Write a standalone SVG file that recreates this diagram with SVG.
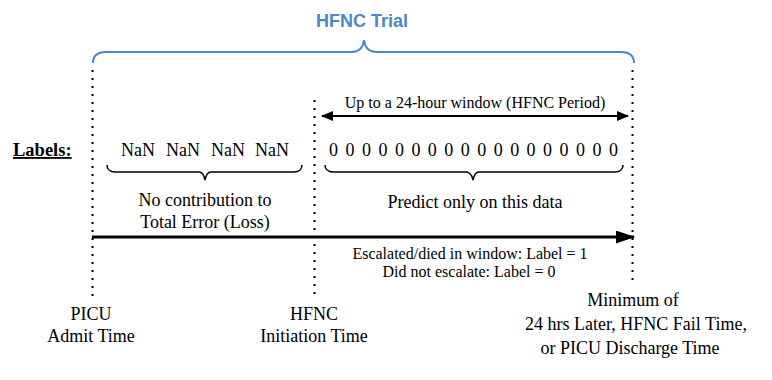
<svg xmlns="http://www.w3.org/2000/svg" width="772" height="380" viewBox="0 0 772 380">
<defs>
<style>
.t{font-family:"Liberation Serif","Times New Roman",serif;fill:#000}
.s18{font-size:18px}
.s16{font-size:16px}
.c{text-anchor:middle}
.dot{stroke:#000;stroke-width:2;stroke-dasharray:2 6;fill:none}
.brace{fill:none;stroke:#000;stroke-width:1.6}
.bbrace{fill:none;stroke:#4a88c9;stroke-width:2}
</style>
<marker id="ah" viewBox="0 0 12 10" refX="11" refY="5" markerWidth="12" markerHeight="10" markerUnits="userSpaceOnUse" orient="auto-start-reverse">
<path d="M0,0 L12,5 L0,10 Z" fill="#000"/>
</marker>
<marker id="ahb" viewBox="0 0 19 13" refX="18" refY="6.5" markerWidth="19" markerHeight="13" markerUnits="userSpaceOnUse" orient="auto">
<path d="M0,0 L19,6.5 L0,13 Z" fill="#000"/>
</marker>
</defs>
<rect width="772" height="380" fill="#fff"/>

<g id="trial">
<text x="362" y="27" style="font-family:'Liberation Sans',Arial,sans-serif;font-weight:bold;font-size:18px;fill:#4a88c9" text-anchor="middle">HFNC Trial</text>
<path class="bbrace" d="M93,63 C93,56 97,52 106,52 L352,52 C359,52 363,48 364,40 C365,48 369,52 376,52 L621,52 C630,52 634,56 634,63"/>
</g>

<g id="timelines">
<line class="dot" x1="92.5" y1="70" x2="92.5" y2="297"/>
<line class="dot" x1="314.5" y1="100" x2="314.5" y2="297"/>
<line class="dot" x1="632.5" y1="70" x2="632.5" y2="282"/>
</g>

<g id="connectors">
<line x1="322" y1="116" x2="628" y2="116" stroke="#000" stroke-width="2" marker-start="url(#ah)" marker-end="url(#ah)"/>
<line x1="92" y1="237" x2="634" y2="237" stroke="#000" stroke-width="3.2" marker-end="url(#ahb)"/>
</g>

<g id="window-label">
<text class="t s16 c" x="475" y="108">Up to a 24-hour window (HFNC Period)</text>
</g>

<g id="labels-title">
<text class="t" x="13" y="156" style="font-size:18.5px;font-weight:bold;text-decoration:underline">Labels:</text>
</g>

<g id="nan-labels">
<text class="t s18" y="156"><tspan x="121">NaN</tspan><tspan x="166">NaN</tspan><tspan x="211">NaN</tspan><tspan x="255">NaN</tspan></text>
<path class="brace" d="M107,165 C107,169 110,172 115,172 L199,172 C202,172 204,175 205,180 C206,175 208,172 211,172 L294,172 C299,172 302,169 302,165"/>
<text class="t s18 c" x="205" y="206">No contribution to</text>
<text class="t s18 c" x="205" y="228">Total Error (Loss)</text>
</g>

<g id="zero-labels">
<text class="t s18" y="156" x="329 345.5 361.9 378.4 394.9 411.4 427.8 444.3 460.8 477.2 493.7 510.2 526.6 543.1 559.6 576.1 592.5 609">000000000000000000</text>
<path class="brace" d="M325,165 C325,169 328,172 333,172 L466,172 C469,172 472,175 473,180 C474,175 476,172 479,172 L615,172 C620,172 623,169 623,165"/>
<text class="t s18 c" x="475" y="208">Predict only on this data</text>
</g>

<g id="outcome">
<text class="t s16 c" x="470" y="259">Escalated/died in window: Label = 1</text>
<text class="t s16 c" x="469" y="277">Did not escalate: Label = 0</text>
</g>

<g id="picu-admit">
<text class="t s18 c" x="91" y="320">PICU</text>
<text class="t s18 c" x="91" y="342">Admit Time</text>
</g>

<g id="hfnc-init">
<text class="t s18 c" x="314" y="320">HFNC</text>
<text class="t s18 c" x="314" y="342">Initiation Time</text>
</g>

<g id="end-time">
<text class="t s18 c" x="633" y="306">Minimum of</text>
<text class="t s18 c" x="636" y="330">24 hrs Later, HFNC Fail Time,</text>
<text class="t s18 c" x="630" y="354">or PICU Discharge Time</text>
</g>
</svg>
